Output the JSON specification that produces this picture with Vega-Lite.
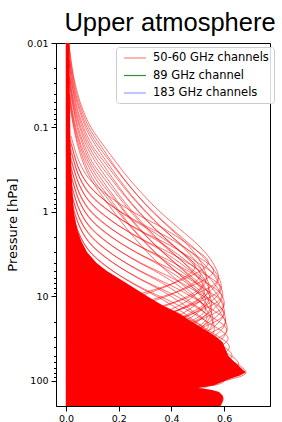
{
"$schema": "https://vega.github.io/schema/vega-lite/v6.json",
"width": 214, "height": 363,
"autosize": "none",
"padding": {"left": 56, "top": 43, "right": 12, "bottom": 16},
"title": {"text": "Upper atmosphere", "font": "Liberation Sans", "fontSize": 25.5, "fontWeight": "normal", "color": "#000", "anchor": "middle", "dx": 7, "dy": 33, "offset": 10, "baseline": "bottom"},
"config": {"view": {"stroke": "#000", "strokeWidth": 1},
  "axis": {"labelFont": "DejaVu Sans", "labelFontSize": 9.5, "labelColor": "#000", "tickColor": "#000", "domainColor": "#000", "grid": false, "titleFont": "DejaVu Sans", "titleFontWeight": "normal", "titleColor": "#000"}},
"datasets": {
"env": [
{"p":0.01,"x":0.013},{"p":0.03,"x":0.014},{"p":0.1,"x":0.016},{"p":0.3,"x":0.02},{"p":0.6,"x":0.025},{"p":1,"x":0.03},{"p":1.6,"x":0.042},{"p":2.2,"x":0.058},{"p":3,"x":0.08},{"p":4,"x":0.115},{"p":5,"x":0.155},{"p":7,"x":0.23},{"p":10,"x":0.31},{"p":13,"x":0.37},{"p":16,"x":0.43},{"p":20,"x":0.48},{"p":25,"x":0.53},{"p":30,"x":0.57},{"p":35,"x":0.595},{"p":42,"x":0.605},{"p":50,"x":0.615},{"p":58,"x":0.635},{"p":66,"x":0.655},{"p":74,"x":0.672},{"p":79,"x":0.683},{"p":86,"x":0.66},{"p":95,"x":0.62},{"p":105,"x":0.585},{"p":113,"x":0.56},{"p":118,"x":0.52},{"p":121,"x":0.5},{"p":127,"x":0.55},{"p":135,"x":0.58},{"p":150,"x":0.595},{"p":170,"x":0.595},{"p":185,"x":0.59},{"p":198,"x":0.585}
],
"lines": [
{"i":"A0","p":0.01,"x":0.011},{"i":"A0","p":0.0158,"x":0.019},{"i":"A0","p":0.0251,"x":0.029},{"i":"A0","p":0.0398,"x":0.044},{"i":"A0","p":0.0631,"x":0.065},{"i":"A0","p":0.1,"x":0.095},{"i":"A0","p":0.158,"x":0.139},{"i":"A0","p":0.251,"x":0.187},{"i":"A0","p":0.398,"x":0.237},{"i":"A0","p":0.631,"x":0.294},{"i":"A0","p":1,"x":0.357},{"i":"A0","p":1.585,"x":0.431},{"i":"A0","p":2.51,"x":0.504},{"i":"A0","p":3.98,"x":0.557},{"i":"A0","p":6.31,"x":0.578},{"i":"A0","p":10,"x":0.525},{"i":"A0","p":15.85,"x":0.399},{"i":"A0","p":25.1,"x":0.231},
{"i":"A1","p":0.01,"x":0.009},{"i":"A1","p":0.0158,"x":0.014},{"i":"A1","p":0.0251,"x":0.024},{"i":"A1","p":0.0398,"x":0.036},{"i":"A1","p":0.0631,"x":0.055},{"i":"A1","p":0.1,"x":0.08},{"i":"A1","p":0.158,"x":0.118},{"i":"A1","p":0.251,"x":0.166},{"i":"A1","p":0.398,"x":0.216},{"i":"A1","p":0.631,"x":0.27},{"i":"A1","p":1,"x":0.332},{"i":"A1","p":1.585,"x":0.401},{"i":"A1","p":2.51,"x":0.476},{"i":"A1","p":3.98,"x":0.54},{"i":"A1","p":6.31,"x":0.583},{"i":"A1","p":7.94,"x":0.589},{"i":"A1","p":10,"x":0.572},{"i":"A1","p":15.85,"x":0.482},{"i":"A1","p":25.1,"x":0.321},
{"i":"A2","p":0.0158,"x":0.011},{"i":"A2","p":0.0251,"x":0.019},{"i":"A2","p":0.0398,"x":0.03},{"i":"A2","p":0.0631,"x":0.045},{"i":"A2","p":0.1,"x":0.067},{"i":"A2","p":0.158,"x":0.097},{"i":"A2","p":0.251,"x":0.143},{"i":"A2","p":0.398,"x":0.192},{"i":"A2","p":0.631,"x":0.244},{"i":"A2","p":1,"x":0.302},{"i":"A2","p":1.585,"x":0.367},{"i":"A2","p":2.51,"x":0.443},{"i":"A2","p":3.98,"x":0.518},{"i":"A2","p":6.31,"x":0.572},{"i":"A2","p":10,"x":0.594},{"i":"A2","p":15.85,"x":0.54},{"i":"A2","p":25.1,"x":0.41},
{"i":"A3","p":0.0251,"x":0.014},{"i":"A3","p":0.0398,"x":0.024},{"i":"A3","p":0.0631,"x":0.037},{"i":"A3","p":0.1,"x":0.056},{"i":"A3","p":0.158,"x":0.082},{"i":"A3","p":0.251,"x":0.12},{"i":"A3","p":0.398,"x":0.169},{"i":"A3","p":0.631,"x":0.22},{"i":"A3","p":1,"x":0.275},{"i":"A3","p":1.585,"x":0.338},{"i":"A3","p":2.51,"x":0.409},{"i":"A3","p":3.98,"x":0.485},{"i":"A3","p":6.31,"x":0.55},{"i":"A3","p":10,"x":0.594},{"i":"A3","p":12.59,"x":0.6},{"i":"A3","p":15.85,"x":0.583},{"i":"A3","p":25.1,"x":0.491},{"i":"A3","p":39.8,"x":0.327},
{"i":"A4","p":0.0251,"x":0.011},{"i":"A4","p":0.0398,"x":0.02},{"i":"A4","p":0.0631,"x":0.031},{"i":"A4","p":0.1,"x":0.046},{"i":"A4","p":0.158,"x":0.068},{"i":"A4","p":0.251,"x":0.098},{"i":"A4","p":0.398,"x":0.144},{"i":"A4","p":0.631,"x":0.194},{"i":"A4","p":1,"x":0.246},{"i":"A4","p":1.585,"x":0.305},{"i":"A4","p":2.51,"x":0.371},{"i":"A4","p":3.98,"x":0.447},{"i":"A4","p":6.31,"x":0.523},{"i":"A4","p":10,"x":0.578},{"i":"A4","p":15.85,"x":0.6},{"i":"A4","p":25.1,"x":0.545},{"i":"A4","p":39.8,"x":0.414},
{"i":"A5","p":0.0398,"x":0.014},{"i":"A5","p":0.0631,"x":0.024},{"i":"A5","p":0.1,"x":0.037},{"i":"A5","p":0.158,"x":0.056},{"i":"A5","p":0.251,"x":0.083},{"i":"A5","p":0.398,"x":0.121},{"i":"A5","p":0.631,"x":0.171},{"i":"A5","p":1,"x":0.222},{"i":"A5","p":1.585,"x":0.277},{"i":"A5","p":2.51,"x":0.341},{"i":"A5","p":3.98,"x":0.413},{"i":"A5","p":6.31,"x":0.49},{"i":"A5","p":10,"x":0.556},{"i":"A5","p":15.85,"x":0.6},{"i":"A5","p":19.95,"x":0.605},{"i":"A5","p":25.1,"x":0.589},{"i":"A5","p":39.8,"x":0.495},
{"i":"A6","p":0.0398,"x":0.011},{"i":"A6","p":0.0631,"x":0.02},{"i":"A6","p":0.1,"x":0.031},{"i":"A6","p":0.158,"x":0.047},{"i":"A6","p":0.251,"x":0.069},{"i":"A6","p":0.398,"x":0.1},{"i":"A6","p":0.631,"x":0.147},{"i":"A6","p":1,"x":0.198},{"i":"A6","p":1.585,"x":0.251},{"i":"A6","p":2.51,"x":0.311},{"i":"A6","p":3.98,"x":0.377},{"i":"A6","p":6.31,"x":0.455},{"i":"A6","p":10,"x":0.533},{"i":"A6","p":15.85,"x":0.588},{"i":"A6","p":25.1,"x":0.611},{"i":"A6","p":39.8,"x":0.555},{"i":"A6","p":63.1,"x":0.422},
{"i":"B0","p":0.01,"x":0.01},{"i":"B0","p":0.0158,"x":0.017},{"i":"B0","p":0.0251,"x":0.027},{"i":"B0","p":0.0398,"x":0.04},{"i":"B0","p":0.0631,"x":0.06},{"i":"B0","p":0.1,"x":0.087},{"i":"B0","p":0.158,"x":0.128},{"i":"B0","p":0.251,"x":0.172},{"i":"B0","p":0.398,"x":0.218},{"i":"B0","p":0.631,"x":0.27},{"i":"B0","p":1,"x":0.328},{"i":"B0","p":1.585,"x":0.397},{"i":"B0","p":2.51,"x":0.464},{"i":"B0","p":3.98,"x":0.512},{"i":"B0","p":6.31,"x":0.532},{"i":"B0","p":10,"x":0.483},{"i":"B0","p":15.85,"x":0.367},{"i":"B0","p":25.1,"x":0.213},
{"i":"B1","p":0.0158,"x":0.013},{"i":"B1","p":0.0251,"x":0.022},{"i":"B1","p":0.0398,"x":0.033},{"i":"B1","p":0.0631,"x":0.051},{"i":"B1","p":0.1,"x":0.074},{"i":"B1","p":0.158,"x":0.109},{"i":"B1","p":0.251,"x":0.153},{"i":"B1","p":0.398,"x":0.199},{"i":"B1","p":0.631,"x":0.248},{"i":"B1","p":1,"x":0.305},{"i":"B1","p":1.585,"x":0.369},{"i":"B1","p":2.51,"x":0.438},{"i":"B1","p":3.98,"x":0.497},{"i":"B1","p":6.31,"x":0.536},{"i":"B1","p":7.94,"x":0.542},{"i":"B1","p":10,"x":0.526},{"i":"B1","p":15.85,"x":0.443},{"i":"B1","p":25.1,"x":0.295},
{"i":"B2","p":0.0158,"x":0.01},{"i":"B2","p":0.0251,"x":0.017},{"i":"B2","p":0.0398,"x":0.028},{"i":"B2","p":0.0631,"x":0.041},{"i":"B2","p":0.1,"x":0.062},{"i":"B2","p":0.158,"x":0.089},{"i":"B2","p":0.251,"x":0.132},{"i":"B2","p":0.398,"x":0.177},{"i":"B2","p":0.631,"x":0.224},{"i":"B2","p":1,"x":0.278},{"i":"B2","p":1.585,"x":0.338},{"i":"B2","p":2.51,"x":0.408},{"i":"B2","p":3.98,"x":0.477},{"i":"B2","p":6.31,"x":0.526},{"i":"B2","p":10,"x":0.546},{"i":"B2","p":15.85,"x":0.497},{"i":"B2","p":25.1,"x":0.377},
{"i":"B3","p":0.0251,"x":0.013},{"i":"B3","p":0.0398,"x":0.022},{"i":"B3","p":0.0631,"x":0.034},{"i":"B3","p":0.1,"x":0.052},{"i":"B3","p":0.158,"x":0.075},{"i":"B3","p":0.251,"x":0.11},{"i":"B3","p":0.398,"x":0.155},{"i":"B3","p":0.631,"x":0.202},{"i":"B3","p":1,"x":0.253},{"i":"B3","p":1.585,"x":0.311},{"i":"B3","p":2.51,"x":0.376},{"i":"B3","p":3.98,"x":0.446},{"i":"B3","p":6.31,"x":0.506},{"i":"B3","p":10,"x":0.546},{"i":"B3","p":12.59,"x":0.552},{"i":"B3","p":15.85,"x":0.536},{"i":"B3","p":25.1,"x":0.452},
{"i":"B4","p":0.0251,"x":0.01},{"i":"B4","p":0.0398,"x":0.018},{"i":"B4","p":0.0631,"x":0.029},{"i":"B4","p":0.1,"x":0.042},{"i":"B4","p":0.158,"x":0.063},{"i":"B4","p":0.251,"x":0.09},{"i":"B4","p":0.398,"x":0.132},{"i":"B4","p":0.631,"x":0.178},{"i":"B4","p":1,"x":0.226},{"i":"B4","p":1.585,"x":0.281},{"i":"B4","p":2.51,"x":0.341},{"i":"B4","p":3.98,"x":0.411},{"i":"B4","p":6.31,"x":0.481},{"i":"B4","p":10,"x":0.532},{"i":"B4","p":15.85,"x":0.552},{"i":"B4","p":25.1,"x":0.501},{"i":"B4","p":39.8,"x":0.381},
{"i":"B5","p":0.0398,"x":0.013},{"i":"B5","p":0.0631,"x":0.022},{"i":"B5","p":0.1,"x":0.034},{"i":"B5","p":0.158,"x":0.052},{"i":"B5","p":0.251,"x":0.076},{"i":"B5","p":0.398,"x":0.111},{"i":"B5","p":0.631,"x":0.157},{"i":"B5","p":1,"x":0.204},{"i":"B5","p":1.585,"x":0.255},{"i":"B5","p":2.51,"x":0.314},{"i":"B5","p":3.98,"x":0.38},{"i":"B5","p":6.31,"x":0.451},{"i":"B5","p":10,"x":0.512},{"i":"B5","p":15.85,"x":0.552},{"i":"B5","p":19.95,"x":0.557},{"i":"B5","p":25.1,"x":0.542},{"i":"B5","p":39.8,"x":0.455},
{"i":"B6","p":0.0398,"x":0.01},{"i":"B6","p":0.0631,"x":0.018},{"i":"B6","p":0.1,"x":0.029},{"i":"B6","p":0.158,"x":0.043},{"i":"B6","p":0.251,"x":0.063},{"i":"B6","p":0.398,"x":0.092},{"i":"B6","p":0.631,"x":0.135},{"i":"B6","p":1,"x":0.182},{"i":"B6","p":1.585,"x":0.231},{"i":"B6","p":2.51,"x":0.286},{"i":"B6","p":3.98,"x":0.347},{"i":"B6","p":6.31,"x":0.419},{"i":"B6","p":10,"x":0.49},{"i":"B6","p":15.85,"x":0.541},{"i":"B6","p":25.1,"x":0.562},{"i":"B6","p":39.8,"x":0.511},{"i":"B6","p":63.1,"x":0.388},
{"i":"D26","p":0.126,"x":0.019},{"i":"D26","p":0.251,"x":0.049},{"i":"D26","p":0.398,"x":0.086},{"i":"D26","p":0.631,"x":0.157},{"i":"D26","p":1,"x":0.254},{"i":"D26","p":1.585,"x":0.373},{"i":"D26","p":2.512,"x":0.47},{"i":"D26","p":3.981,"x":0.54},{"i":"D26","p":6.31,"x":0.443},{"i":"D26","p":10,"x":0.243},
{"i":"D27","p":0.158,"x":0.02},{"i":"D27","p":0.316,"x":0.05},{"i":"D27","p":0.501,"x":0.09},{"i":"D27","p":0.794,"x":0.162},{"i":"D27","p":1.259,"x":0.263},{"i":"D27","p":1.995,"x":0.386},{"i":"D27","p":3.162,"x":0.487},{"i":"D27","p":5.012,"x":0.56},{"i":"D27","p":7.943,"x":0.459},{"i":"D27","p":12.59,"x":0.252},
{"i":"D28","p":0.2,"x":0.02},{"i":"D28","p":0.398,"x":0.052},{"i":"D28","p":0.631,"x":0.092},{"i":"D28","p":1,"x":0.167},{"i":"D28","p":1.585,"x":0.27},{"i":"D28","p":2.512,"x":0.397},{"i":"D28","p":3.981,"x":0.5},{"i":"D28","p":6.31,"x":0.575},{"i":"D28","p":10,"x":0.472},{"i":"D28","p":15.85,"x":0.259},
{"i":"D29","p":0.251,"x":0.02},{"i":"D29","p":0.501,"x":0.053},{"i":"D29","p":0.794,"x":0.094},{"i":"D29","p":1.259,"x":0.17},{"i":"D29","p":1.995,"x":0.275},{"i":"D29","p":3.162,"x":0.404},{"i":"D29","p":5.012,"x":0.509},{"i":"D29","p":7.943,"x":0.585},{"i":"D29","p":12.59,"x":0.48},{"i":"D29","p":19.95,"x":0.263},
{"i":"D30","p":0.316,"x":0.021},{"i":"D30","p":0.631,"x":0.053},{"i":"D30","p":1,"x":0.094},{"i":"D30","p":1.585,"x":0.171},{"i":"D30","p":2.512,"x":0.277},{"i":"D30","p":3.981,"x":0.407},{"i":"D30","p":6.31,"x":0.513},{"i":"D30","p":10,"x":0.59},{"i":"D30","p":15.85,"x":0.484},{"i":"D30","p":25.12,"x":0.266},
{"i":"D31","p":0.398,"x":0.021},{"i":"D31","p":0.794,"x":0.054},{"i":"D31","p":1.259,"x":0.096},{"i":"D31","p":1.995,"x":0.173},{"i":"D31","p":3.162,"x":0.281},{"i":"D31","p":5.012,"x":0.413},{"i":"D31","p":7.943,"x":0.52},{"i":"D31","p":12.59,"x":0.598},{"i":"D31","p":19.95,"x":0.49},{"i":"D31","p":31.62,"x":0.269},
{"i":"D32","p":0.501,"x":0.021},{"i":"D32","p":1,"x":0.054},{"i":"D32","p":1.585,"x":0.096},{"i":"D32","p":2.512,"x":0.174},{"i":"D32","p":3.981,"x":0.282},{"i":"D32","p":6.31,"x":0.414},{"i":"D32","p":10,"x":0.522},{"i":"D32","p":15.85,"x":0.6},{"i":"D32","p":25.12,"x":0.492},{"i":"D32","p":39.81,"x":0.27},
{"i":"D33","p":0.631,"x":0.021},{"i":"D33","p":1.259,"x":0.054},{"i":"D33","p":1.995,"x":0.097},{"i":"D33","p":3.162,"x":0.175},{"i":"D33","p":5.012,"x":0.284},{"i":"D33","p":7.943,"x":0.417},{"i":"D33","p":12.59,"x":0.526},{"i":"D33","p":19.95,"x":0.605},{"i":"D33","p":31.62,"x":0.496},{"i":"D33","p":50.12,"x":0.272},
{"i":"D34","p":0.794,"x":0.021},{"i":"D34","p":1.585,"x":0.055},{"i":"D34","p":2.512,"x":0.098},{"i":"D34","p":3.981,"x":0.177},{"i":"D34","p":6.31,"x":0.287},{"i":"D34","p":10,"x":0.421},{"i":"D34","p":15.85,"x":0.531},{"i":"D34","p":25.12,"x":0.61},{"i":"D34","p":39.81,"x":0.5},{"i":"D34","p":63.1,"x":0.275},
{"i":"D35","p":1,"x":0.022},{"i":"D35","p":1.995,"x":0.055},{"i":"D35","p":3.162,"x":0.098},{"i":"D35","p":5.012,"x":0.178},{"i":"D35","p":7.943,"x":0.289},{"i":"D35","p":12.59,"x":0.424},{"i":"D35","p":19.95,"x":0.535},{"i":"D35","p":31.62,"x":0.615},{"i":"D35","p":50.12,"x":0.504},{"i":"D35","p":79.43,"x":0.277},
{"i":"D36","p":1.259,"x":0.022},{"i":"D36","p":2.512,"x":0.056},{"i":"D36","p":3.981,"x":0.099},{"i":"D36","p":6.31,"x":0.18},{"i":"D36","p":10,"x":0.291},{"i":"D36","p":15.85,"x":0.428},{"i":"D36","p":25.12,"x":0.539},{"i":"D36","p":39.81,"x":0.62},{"i":"D36","p":63.1,"x":0.508},{"i":"D36","p":100,"x":0.279},
{"i":"D37","p":1.585,"x":0.022},{"i":"D37","p":3.162,"x":0.057},{"i":"D37","p":5.012,"x":0.101},{"i":"D37","p":7.943,"x":0.183},{"i":"D37","p":12.59,"x":0.296},{"i":"D37","p":19.95,"x":0.435},{"i":"D37","p":31.62,"x":0.548},{"i":"D37","p":50.12,"x":0.63},{"i":"D37","p":79.43,"x":0.517},{"i":"D37","p":125.9,"x":0.284},
{"i":"D38","p":1.995,"x":0.023},{"i":"D38","p":3.981,"x":0.059},{"i":"D38","p":6.31,"x":0.105},{"i":"D38","p":10,"x":0.19},{"i":"D38","p":15.85,"x":0.308},{"i":"D38","p":25.12,"x":0.452},{"i":"D38","p":39.81,"x":0.57},{"i":"D38","p":63.1,"x":0.655},{"i":"D38","p":100,"x":0.537},{"i":"D38","p":158.5,"x":0.295},
{"i":"D39","p":2.512,"x":0.024},{"i":"D39","p":5.012,"x":0.061},{"i":"D39","p":7.943,"x":0.109},{"i":"D39","p":12.59,"x":0.198},{"i":"D39","p":19.95,"x":0.321},{"i":"D39","p":31.62,"x":0.471},{"i":"D39","p":50.12,"x":0.594},{"i":"D39","p":79.43,"x":0.683},{"i":"D39","p":100,"x":0.6},{"i":"D39","p":125.9,"x":0.45},{"i":"D39","p":158.5,"x":0.35},
{"i":"D40","p":3.162,"x":0.021},{"i":"D40","p":6.31,"x":0.054},{"i":"D40","p":10,"x":0.096},{"i":"D40","p":15.85,"x":0.174},{"i":"D40","p":25.12,"x":0.282},{"i":"D40","p":39.81,"x":0.414},{"i":"D40","p":63.1,"x":0.522},{"i":"D40","p":100,"x":0.6},{"i":"D40","p":125.9,"x":0.47},{"i":"D40","p":158.5,"x":0.38},{"i":"D40","p":198,"x":0.3},
{"i":"D41","p":4.467,"x":0.02},{"i":"D41","p":8.913,"x":0.053},{"i":"D41","p":14.13,"x":0.094},{"i":"D41","p":22.39,"x":0.17},{"i":"D41","p":35.48,"x":0.275},{"i":"D41","p":56.23,"x":0.404},{"i":"D41","p":89.1,"x":0.509},{"i":"D41","p":112.2,"x":0.47},{"i":"D41","p":125.9,"x":0.52},{"i":"D41","p":141.3,"x":0.585},{"i":"D41","p":177.8,"x":0.592},{"i":"D41","p":198,"x":0.585},
{"i":"D42","p":5.012,"x":0.021},{"i":"D42","p":10,"x":0.054},{"i":"D42","p":15.85,"x":0.096},{"i":"D42","p":25.12,"x":0.173},{"i":"D42","p":39.81,"x":0.281},{"i":"D42","p":63.1,"x":0.412},{"i":"D42","p":100,"x":0.47},{"i":"D42","p":125.9,"x":0.5},{"i":"D42","p":158.5,"x":0.597},{"i":"D42","p":198,"x":0.58},
{"i":"D43","p":6.31,"x":0.02},{"i":"D43","p":12.59,"x":0.053},{"i":"D43","p":19.95,"x":0.094},{"i":"D43","p":31.62,"x":0.17},{"i":"D43","p":50.12,"x":0.275},{"i":"D43","p":79.43,"x":0.404},{"i":"D43","p":125.9,"x":0.48},{"i":"D43","p":198,"x":0.585},
{"i":"E26","p":0.141,"x":0.017},{"i":"E26","p":0.282,"x":0.044},{"i":"E26","p":0.447,"x":0.078},{"i":"E26","p":0.708,"x":0.142},{"i":"E26","p":1.122,"x":0.23},{"i":"E26","p":1.778,"x":0.338},{"i":"E26","p":2.818,"x":0.426},{"i":"E26","p":4.467,"x":0.49},{"i":"E26","p":7.079,"x":0.402},{"i":"E26","p":11.22,"x":0.221},
{"i":"E27","p":0.178,"x":0.018},{"i":"E27","p":0.355,"x":0.046},{"i":"E27","p":0.562,"x":0.082},{"i":"E27","p":0.891,"x":0.148},{"i":"E27","p":1.413,"x":0.24},{"i":"E27","p":2.239,"x":0.352},{"i":"E27","p":3.548,"x":0.444},{"i":"E27","p":5.623,"x":0.51},{"i":"E27","p":8.913,"x":0.418},{"i":"E27","p":14.13,"x":0.23},
{"i":"E28","p":0.224,"x":0.018},{"i":"E28","p":0.447,"x":0.047},{"i":"E28","p":0.708,"x":0.083},{"i":"E28","p":1.122,"x":0.151},{"i":"E28","p":1.778,"x":0.244},{"i":"E28","p":2.818,"x":0.359},{"i":"E28","p":4.467,"x":0.452},{"i":"E28","p":7.079,"x":0.52},{"i":"E28","p":11.22,"x":0.426},{"i":"E28","p":17.78,"x":0.234},
{"i":"E29","p":0.282,"x":0.018},{"i":"E29","p":0.562,"x":0.047},{"i":"E29","p":0.891,"x":0.084},{"i":"E29","p":1.413,"x":0.152},{"i":"E29","p":2.239,"x":0.247},{"i":"E29","p":3.548,"x":0.362},{"i":"E29","p":5.623,"x":0.457},{"i":"E29","p":8.913,"x":0.525},{"i":"E29","p":14.13,"x":0.431},{"i":"E29","p":22.39,"x":0.236},
{"i":"E30","p":0.355,"x":0.019},{"i":"E30","p":0.708,"x":0.048},{"i":"E30","p":1.122,"x":0.085},{"i":"E30","p":1.778,"x":0.154},{"i":"E30","p":2.818,"x":0.249},{"i":"E30","p":4.467,"x":0.366},{"i":"E30","p":7.079,"x":0.461},{"i":"E30","p":11.22,"x":0.53},{"i":"E30","p":17.78,"x":0.435},{"i":"E30","p":28.18,"x":0.239},
{"i":"E31","p":0.447,"x":0.019},{"i":"E31","p":0.891,"x":0.048},{"i":"E31","p":1.413,"x":0.085},{"i":"E31","p":2.239,"x":0.154},{"i":"E31","p":3.548,"x":0.249},{"i":"E31","p":5.623,"x":0.366},{"i":"E31","p":8.913,"x":0.461},{"i":"E31","p":14.13,"x":0.53},{"i":"E31","p":22.39,"x":0.435},{"i":"E31","p":35.48,"x":0.239},
{"i":"E32","p":0.562,"x":0.019},{"i":"E32","p":1.122,"x":0.048},{"i":"E32","p":1.778,"x":0.086},{"i":"E32","p":2.818,"x":0.155},{"i":"E32","p":4.467,"x":0.251},{"i":"E32","p":7.079,"x":0.369},{"i":"E32","p":11.22,"x":0.465},{"i":"E32","p":17.78,"x":0.535},{"i":"E32","p":28.18,"x":0.439},{"i":"E32","p":44.67,"x":0.241},
{"i":"E33","p":0.708,"x":0.019},{"i":"E33","p":1.413,"x":0.049},{"i":"E33","p":2.239,"x":0.086},{"i":"E33","p":3.548,"x":0.157},{"i":"E33","p":5.623,"x":0.254},{"i":"E33","p":8.913,"x":0.373},{"i":"E33","p":14.13,"x":0.47},{"i":"E33","p":22.39,"x":0.54},{"i":"E33","p":35.48,"x":0.443},{"i":"E33","p":56.23,"x":0.243},
{"i":"E34","p":0.891,"x":0.019},{"i":"E34","p":1.778,"x":0.049},{"i":"E34","p":2.818,"x":0.086},{"i":"E34","p":4.467,"x":0.157},{"i":"E34","p":7.079,"x":0.254},{"i":"E34","p":11.22,"x":0.373},{"i":"E34","p":17.78,"x":0.47},{"i":"E34","p":28.18,"x":0.54},{"i":"E34","p":44.67,"x":0.443},{"i":"E34","p":70.8,"x":0.243},
{"i":"E35","p":1.122,"x":0.019},{"i":"E35","p":2.239,"x":0.049},{"i":"E35","p":3.548,"x":0.087},{"i":"E35","p":5.623,"x":0.158},{"i":"E35","p":8.913,"x":0.256},{"i":"E35","p":14.13,"x":0.376},{"i":"E35","p":22.39,"x":0.474},{"i":"E35","p":35.48,"x":0.545},{"i":"E35","p":56.23,"x":0.447},{"i":"E35","p":89.1,"x":0.245},
{"i":"E36","p":1.413,"x":0.019},{"i":"E36","p":2.818,"x":0.05},{"i":"E36","p":4.467,"x":0.088},{"i":"E36","p":7.079,"x":0.16},{"i":"E36","p":11.22,"x":0.259},{"i":"E36","p":17.78,"x":0.38},{"i":"E36","p":28.18,"x":0.479},{"i":"E36","p":44.67,"x":0.55},{"i":"E36","p":70.8,"x":0.451},{"i":"E36","p":112.2,"x":0.248},
{"i":"E37","p":1.778,"x":0.02},{"i":"E37","p":3.548,"x":0.051},{"i":"E37","p":5.623,"x":0.09},{"i":"E37","p":8.913,"x":0.164},{"i":"E37","p":14.13,"x":0.266},{"i":"E37","p":22.39,"x":0.39},{"i":"E37","p":35.48,"x":0.492},{"i":"E37","p":56.23,"x":0.565},{"i":"E37","p":89.1,"x":0.463},{"i":"E37","p":141.3,"x":0.254},
{"i":"E38","p":2.239,"x":0.021},{"i":"E38","p":4.467,"x":0.053},{"i":"E38","p":7.079,"x":0.094},{"i":"E38","p":11.22,"x":0.171},{"i":"E38","p":17.78,"x":0.277},{"i":"E38","p":28.18,"x":0.407},{"i":"E38","p":44.67,"x":0.513},{"i":"E38","p":70.8,"x":0.59},{"i":"E38","p":112.2,"x":0.484},{"i":"E38","p":177.8,"x":0.266},
{"i":"E39","p":2.818,"x":0.02},{"i":"E39","p":5.623,"x":0.052},{"i":"E39","p":8.913,"x":0.093},{"i":"E39","p":14.13,"x":0.168},{"i":"E39","p":22.39,"x":0.273},{"i":"E39","p":35.48,"x":0.4},{"i":"E39","p":56.23,"x":0.505},{"i":"E39","p":89.1,"x":0.58},{"i":"E39","p":141.3,"x":0.476}
]
},
"layer": [
{"data": {"name": "env"},
 "mark": {"type": "line", "strokeWidth": 1, "clip": true},
 "encoding": {
  "y": {"field": "p", "type": "quantitative", "scale": {"type": "log", "domain": [0.01, 198], "reverse": true, "nice": false},
        "axis": {"values": [0.01, 0.1, 1, 10, 100], "format": "~g", "tickSize": 5, "labelPadding": 3, "title": "Pressure [hPa]", "titleFontSize": 13, "titleAngle": -90, "titleBaseline": "alphabetic", "titleAlign": "center", "titleX": -40, "titleY": 181.5}},
  "x": {"datum": 0, "type": "quantitative", "scale": {"domain": [-0.038, 0.774], "nice": false, "zero": false},
        "axis": {"values": [0, 0.2, 0.4, 0.6], "format": ".1f", "tickSize": 5, "labelPadding": 2, "title": null}},
  "color": {"datum": "50-60 GHz channels", "type": "nominal",
            "scale": {"domain": ["50-60 GHz channels", "89 GHz channel", "183 GHz channels"], "range": ["#ff8080", "#3a8a3a", "#9d9dff"]},
            "legend": {"orient": "none", "legendX": 60, "legendY": 4, "title": null, "symbolType": "M-2,0H2", "symbolSize": 121, "symbolStrokeWidth": 1.2, "symbolOpacity": 1, "symbolOffset": 8, "labelOffset": 11.5, "labelFont": "DejaVu Sans", "labelFontSize": 11.5, "labelColor": "#000", "rowPadding": 5.5, "padding": 4.5, "strokeColor": "#cccccc", "fillColor": "rgba(255,255,255,0.85)", "cornerRadius": 3}}
 }},
{"data": {"name": "env"},
 "mark": {"type": "area", "orient": "horizontal", "color": "#ff0000", "clip": true},
 "encoding": {
  "y": {"field": "p", "type": "quantitative", "axis": null},
  "x": {"field": "x", "type": "quantitative"},
  "x2": {"datum": 0}
 }},
{"data": {"name": "lines"},
 "mark": {"type": "line", "interpolate": "catmull-rom", "strokeWidth": 1, "stroke": "#ff0000", "opacity": 0.55, "clip": true},
 "encoding": {
  "y": {"field": "p", "type": "quantitative",
        "axis": {"orient": "left", "values": [0.02,0.03,0.04,0.05,0.06,0.07,0.08,0.09,0.2,0.3,0.4,0.5,0.6,0.7,0.8,0.9,2,3,4,5,6,7,8,9,20,30,40,50,60,70,80,90], "labels": false, "tickSize": 2.5, "domain": false, "title": null}},
  "x": {"field": "x", "type": "quantitative"},
  "detail": {"field": "i"},
  "order": {"field": "p", "type": "quantitative"}
 }}
],
"resolve": {"axis": {"y": "independent"}}
}
